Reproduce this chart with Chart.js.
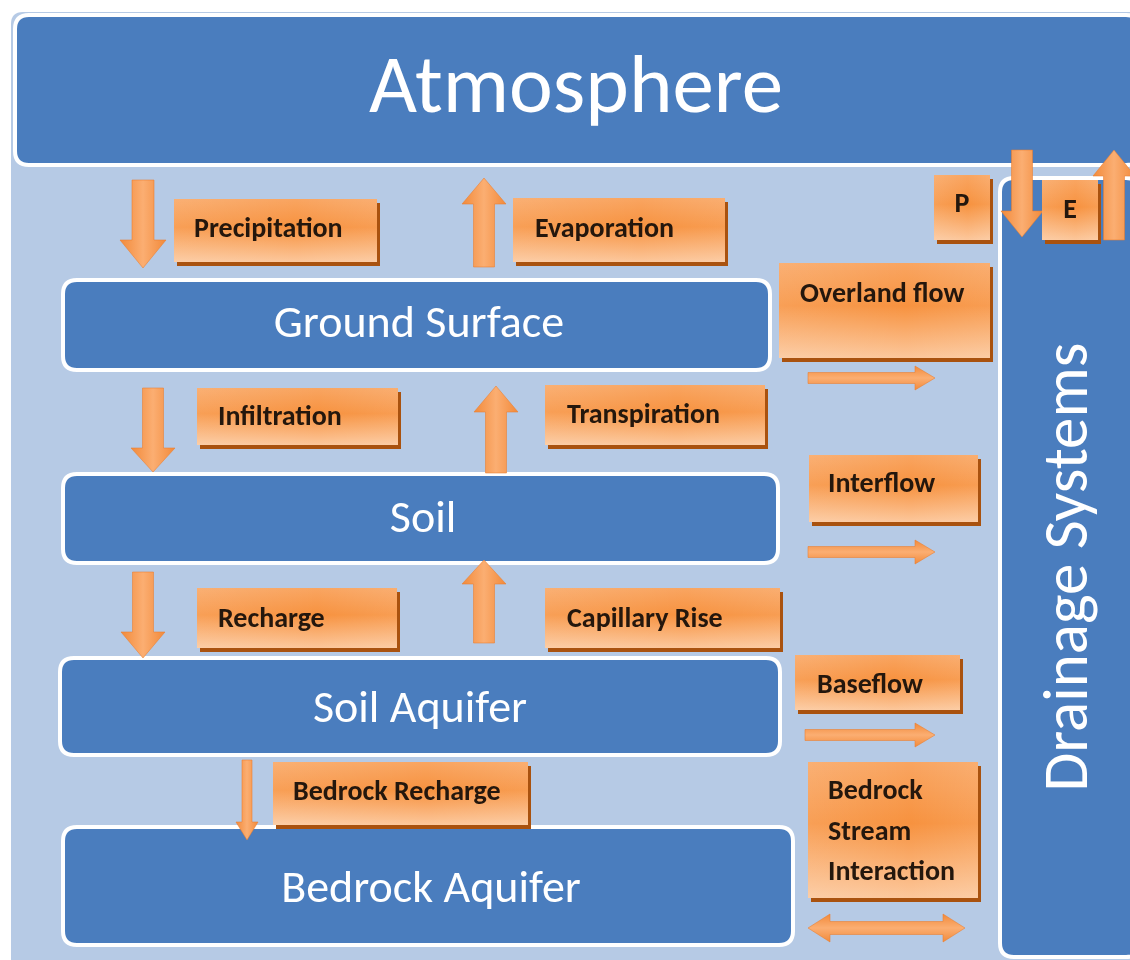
<!DOCTYPE html>
<html><head><meta charset="utf-8">
<script src="https://cdn.jsdelivr.net/npm/chart.js@4.4.1/dist/chart.umd.min.js"></script>
<style>html,body{margin:0;padding:0;background:#fff;overflow:hidden}#wrap{width:1130px;height:960px}</style>
</head><body><div id="wrap"><canvas id="c" width="1130" height="960" style="width:1130px;height:960px"></canvas></div>
<script>
// ---- compartments (blue boxes) ----
const layerNames  = ['Atmosphere', 'Ground Surface', 'Soil', 'Soil Aquifer', 'Bedrock Aquifer', 'Drainage Systems'];
const layerLeft   = [15, 63, 63, 60, 63, 1000];
const layerRight  = [1140, 770, 778, 780, 793, 1140];
const layerTop    = [15, 280, 474, 658, 827, 178];
const layerBottom = [165, 370, 563, 755, 945, 957];
const layerTextX  = [576, 419, 423, 420, 431, 1087];   // centre (for Drainage: baseline x)
const layerTextY  = [112, 337, 532, 722, 902, 567];    // baseline (for Drainage: centre y)
const layerFont   = [83, 46, 46, 46, 46, 63];

// ---- flux labels (orange boxes) ----
const fluxNames  = ['Precipitation', 'Evaporation', 'Infiltration', 'Transpiration', 'Recharge', 'Capillary Rise',
                    'Bedrock Recharge', 'Overland flow', 'Interflow', 'Baseflow', 'Bedrock\nStream\nInteraction', 'P', 'E'];
const fluxLeft   = [174, 513, 197, 545, 197, 545, 273, 779, 809, 795, 808, 934, 1042];
const fluxRight  = [377, 725, 398, 765, 397, 780, 528, 990, 978, 960, 978, 990, 1098];
const fluxTop    = [199, 198, 388, 385, 588, 588, 762, 263, 455, 655, 762, 175, 180];
const fluxBottom = [262, 262, 445, 445, 648, 648, 825, 358, 522, 710, 898, 240, 240];
const fluxTextX  = [194, 535, 218, 567, 218, 567, 293, 800, 828, 817, 828, null, null];
const fluxTextY  = [237, 237, 425, 423, 627, 627, 800, 302, 492, 693, 799, 212, 218];
const fluxLineGap = 40.5;

// ---- flow arrows: tail (x1,y1) -> tip (x2,y2) ----
const arrowX1 = [143, 484, 153, 496, 143, 484, 247, 1022, 1114, 808, 808, 805, 808];
const arrowY1 = [180, 267, 388, 473, 572, 643, 760, 150, 240, 378, 552, 735, 928];
const arrowX2 = [143, 484, 153, 496, 143, 484, 247, 1022, 1114, 935, 935, 935, 965];
const arrowY2 = [268, 178, 472, 386, 658, 560, 840, 237, 150, 378, 552, 735, 928];
const arrowShaft = [22, 21, 21, 21, 21, 21, 10, 21, 21, 11, 11, 11, 13];
const arrowHeadW = [46, 44, 44, 44, 44, 44, 22, 42, 42, 24, 24, 24, 28];
const arrowHeadL = [28, 26, 24, 26, 26, 24, 18, 26, 26, 20, 20, 20, 22];
const arrowDouble = [false, false, false, false, false, false, false, false, false, false, false, false, true];

const FONT = 'Carlito, Lato, "Open Sans", sans-serif';

function rr(ctx, x, y, w, h, r) {
  ctx.beginPath();
  ctx.moveTo(x + r, y);
  ctx.lineTo(x + w - r, y); ctx.quadraticCurveTo(x + w, y, x + w, y + r);
  ctx.lineTo(x + w, y + h - r); ctx.quadraticCurveTo(x + w, y + h, x + w - r, y + h);
  ctx.lineTo(x + r, y + h); ctx.quadraticCurveTo(x, y + h, x, y + h - r);
  ctx.lineTo(x, y + r); ctx.quadraticCurveTo(x, y, x + r, y);
  ctx.closePath();
}

function drawArrow(ctx, x1, y1, x2, y2, sw, hw, hl, dbl) {
  const dx = x2 - x1, dy = y2 - y1, len = Math.hypot(dx, dy);
  const ux = dx / len, uy = dy / len, px = -uy, py = ux;
  const P = (a, b) => [x1 + ux * a + px * b, y1 + uy * a + py * b];
  let pts = [];
  if (dbl) {
    pts = [P(0, 0), P(hl, hw / 2), P(hl, sw / 2), P(len - hl, sw / 2), P(len - hl, hw / 2), P(len, 0),
           P(len - hl, -hw / 2), P(len - hl, -sw / 2), P(hl, -sw / 2), P(hl, -hw / 2)];
  } else {
    pts = [P(0, sw / 2), P(len - hl, sw / 2), P(len - hl, hw / 2), P(len, 0), P(len - hl, -hw / 2),
           P(len - hl, -sw / 2), P(0, -sw / 2)];
  }
  const a = P(0, hw / 2), b = P(0, -hw / 2);
  const g = ctx.createLinearGradient(a[0], a[1], b[0], b[1]);
  g.addColorStop(0, '#f28a3a'); g.addColorStop(0.5, '#fbae72'); g.addColorStop(1, '#f28a3a');
  ctx.beginPath();
  ctx.moveTo(pts[0][0], pts[0][1]);
  for (let i = 1; i < pts.length; i++) ctx.lineTo(pts[i][0], pts[i][1]);
  ctx.closePath();
  ctx.fillStyle = g; ctx.fill();
  ctx.strokeStyle = 'rgba(235,125,45,0.55)'; ctx.lineWidth = 1; ctx.stroke();
}

const diagram = {
  id: 'diagram',
  beforeDatasetsDraw(chart) {
    const ctx = chart.ctx, xs = chart.scales.x, ys = chart.scales.y;
    const X = v => xs.getPixelForValue(v), Y = v => ys.getPixelForValue(v);
    ctx.save();
    ctx.fillStyle = '#ffffff'; ctx.fillRect(0, 0, chart.width, chart.height);
    // light blue panel
    rr(ctx, X(11), Y(12), X(1140) - X(11), Y(970) - Y(12), 12);
    ctx.fillStyle = '#b6cae5'; ctx.fill();

    // blue compartments
    layerNames.forEach((name, i) => {
      const x = X(layerLeft[i]), y = Y(layerTop[i]);
      const w = X(layerRight[i]) - x, h = Y(layerBottom[i]) - y;
      rr(ctx, x, y, w, h, 14);
      ctx.fillStyle = '#4a7dbe'; ctx.fill();
      ctx.strokeStyle = '#ffffff'; ctx.lineWidth = 4; ctx.stroke();
    });

    // arrows
    arrowX1.forEach((v, i) => {
      drawArrow(ctx, X(arrowX1[i]), Y(arrowY1[i]), X(arrowX2[i]), Y(arrowY2[i]),
                arrowShaft[i], arrowHeadW[i], arrowHeadL[i], arrowDouble[i]);
    });

    // compartment labels
    ctx.fillStyle = '#ffffff';
    layerNames.forEach((name, i) => {
      ctx.font = '400 ' + layerFont[i] + 'px ' + FONT;
      ctx.textAlign = 'center';
      ctx.textBaseline = 'alphabetic';
      if (i === 5) {
        ctx.save(); ctx.translate(X(layerTextX[i]), Y(layerTextY[i])); ctx.rotate(-Math.PI / 2);
        ctx.fillText(name, 0, 0); ctx.restore();
      } else {
        ctx.fillText(name, X(layerTextX[i]), Y(layerTextY[i]));
      }
    });

    // orange flux boxes
    fluxNames.forEach((name, i) => {
      const x = X(fluxLeft[i]), y = Y(fluxTop[i]);
      const w = X(fluxRight[i]) - x, h = Y(fluxBottom[i]) - y;
      ctx.fillStyle = '#a9520f';
      ctx.fillRect(x + 3, y + 4, w, h);
      const g = ctx.createLinearGradient(0, y, 0, y + h);
      g.addColorStop(0, '#f9a561'); g.addColorStop(0.45, '#f7923f'); g.addColorStop(1, '#fcc79b');
      ctx.fillStyle = g; ctx.fillRect(x, y, w, h);
      const g2 = ctx.createLinearGradient(x, 0, x + w, 0);
      g2.addColorStop(0, 'rgba(255,255,255,0.12)'); g2.addColorStop(0.6, 'rgba(255,255,255,0)'); g2.addColorStop(1, 'rgba(255,255,255,0.1)');
      ctx.fillStyle = g2; ctx.fillRect(x, y, w, h);

      ctx.fillStyle = '#24170d';
      ctx.font = '700 28px ' + FONT;
      ctx.textBaseline = 'alphabetic';
      const lines = name.split('\n');
      if (fluxTextX[i] === null) {
        ctx.textAlign = 'center';
        ctx.fillText(name, x + w / 2, Y(fluxTextY[i]));
      } else {
        ctx.textAlign = 'left';
        lines.forEach((ln, k) => ctx.fillText(ln, X(fluxTextX[i]), Y(fluxTextY[i]) + k * fluxLineGap));
      }
    });
    ctx.restore();
  }
};

new Chart(document.getElementById('c'), {
  type: 'scatter',
  data: { datasets: [{ data: [], pointRadius: 0 }] },
  options: {
    responsive: false, animation: false, events: [],
    layout: { padding: 0 },
    plugins: { legend: { display: false }, tooltip: { enabled: false } },
    scales: {
      x: { type: 'linear', min: 0, max: 1130, display: false },
      y: { type: 'linear', min: 0, max: 960, reverse: true, display: false }
    }
  },
  plugins: [diagram]
});
</script></body></html>
